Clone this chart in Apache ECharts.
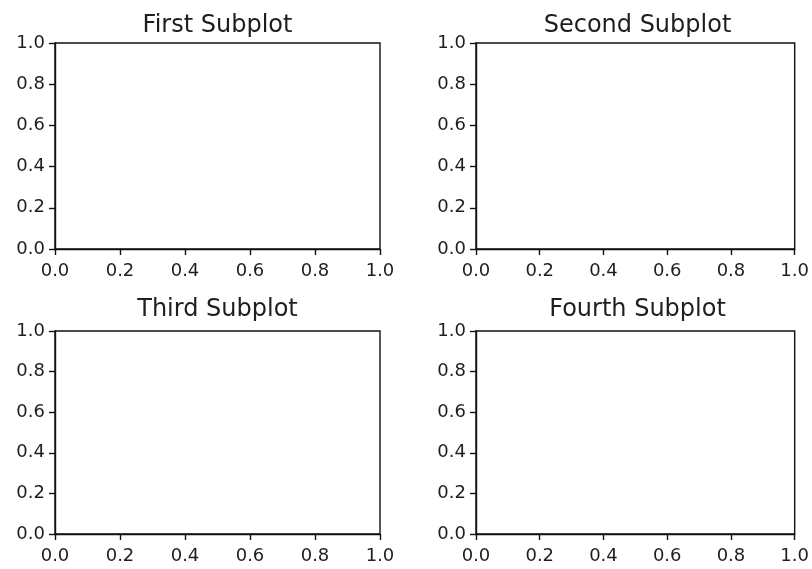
<!DOCTYPE html>
<html>
<head>
<meta charset="utf-8">
<script src="https://cdn.jsdelivr.net/npm/echarts@6/dist/echarts.min.js"></script>
<style>
html,body{margin:0;padding:0;background:#fff;}
#chart{width:812px;height:569px;}
</style>
</head>
<body>
<div id="chart"></div>
<script>
// Data
var subplotTitles = ['First Subplot', 'Second Subplot', 'Third Subplot', 'Fourth Subplot'];
var axisMin = 0;
var axisMax = 1;
var tickInterval = 0.2;
var tickLabels = ['0.0', '0.2', '0.4', '0.6', '0.8', '1.0'];

// Layout
var grids = [
  {left: 55, top: 43, width: 325, height: 206},
  {left: 476, top: 43, width: 323, height: 206},
  {left: 55, top: 331, width: 325, height: 203},
  {left: 476, top: 331, width: 323, height: 203}
];
var titleY = [26, 26, 310, 310];

var textColor = '#1e1e1e';
var lineColor = '#111';
var fontFamily = 'DejaVu Sans';

function fmt(v) {
  var i = Math.round((v - axisMin) / tickInterval);
  return tickLabels[i] !== undefined ? tickLabels[i] : v.toFixed(1);
}

var xAxes = [], yAxes = [], gridOpts = [], graphics = [], series = [];
grids.forEach(function (g, i) {
  gridOpts.push({
    left: g.left, top: g.top, width: g.width, height: g.height,
    show: true, borderColor: lineColor, borderWidth: 1.4, backgroundColor: '#fff'
  });
  var common = {
    type: 'value', gridIndex: i, min: axisMin, max: axisMax, interval: tickInterval,
    axisLine: {show: true, onZero: false, lineStyle: {color: lineColor, width: 1.4}},
    axisTick: {show: true, inside: false, length: 6, lineStyle: {color: lineColor, width: 1.4}},
    splitLine: {show: false},
    axisLabel: {show: true, color: textColor, fontSize: 18, fontFamily: fontFamily, showMinLabel: true, showMaxLabel: true}
  };
  var xa = JSON.parse(JSON.stringify(common));
  xa.axisLabel.formatter = fmt; xa.axisLabel.margin = 13; xa.position = 'bottom';
  var ya = JSON.parse(JSON.stringify(common));
  ya.axisLabel.formatter = fmt; ya.axisLabel.margin = 10; ya.position = 'left';
  xAxes.push(xa);
  yAxes.push(ya);
  series.push({type: 'line', xAxisIndex: i, yAxisIndex: i, data: [], silent: true});
  graphics.push({
    type: 'text', x: g.left + g.width / 2, y: titleY[i], silent: true,
    style: {text: subplotTitles[i], fill: textColor, font: '24px "DejaVu Sans"', textAlign: 'center', textVerticalAlign: 'middle'}
  });
});

var chart = echarts.init(document.getElementById('chart'), null, {renderer: 'canvas'});
chart.setOption({
  animation: false,
  backgroundColor: '#fff',
  grid: gridOpts,
  xAxis: xAxes,
  yAxis: yAxes,
  series: series,
  graphic: graphics
});
</script>
</body>
</html>
